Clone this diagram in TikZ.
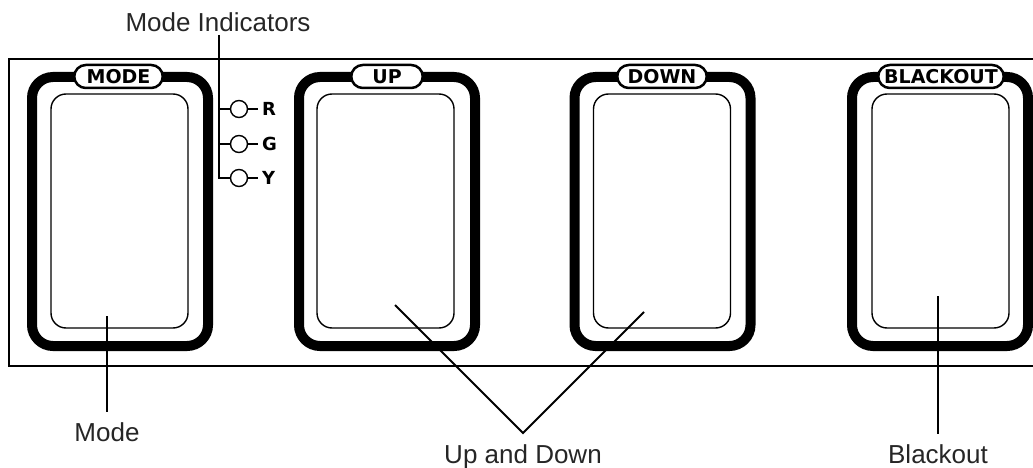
\documentclass[tikz,border=0pt]{standalone}
\usepackage{fontspec}
\setmainfont{Liberation Sans}
\newfontfamily\heavyfont{DejaVu Sans}
\usetikzlibrary{shapes.misc}
\begin{document}
\begin{tikzpicture}[x=1pt,y=-1pt,
  panelbox/.style={draw, line width=1.5pt, minimum width=1041pt, minimum height=307pt, inner sep=0pt},
  outerbtn/.style={draw, line width=10pt, rounded corners=21pt, minimum width=176pt, minimum height=269pt, inner sep=0pt},
  innerbtn/.style={draw, line width=1.4pt, rounded corners=15pt, minimum width=137pt, minimum height=234pt, inner sep=0pt},
  pill/.style={rounded rectangle, draw, fill=white, line width=2.5pt, minimum height=23pt, inner sep=0pt,
    font=\heavyfont\bfseries\fontsize{19}{19}\selectfont},
  led/.style={circle, draw, line width=1.4pt, minimum size=17pt, inner sep=0pt},
  ledtxt/.style={inner xsep=4pt, inner ysep=0pt, anchor=west, font=\heavyfont\bfseries\fontsize{18}{18}\selectfont},
  lbl/.style={anchor=base, inner sep=0pt, text=black!85, font=\fontsize{26}{26}\selectfont},
  callout/.style={line width=2pt}
]
\clip (0,0) rectangle (1033,468);
\fill[white] (0,0) rectangle (1033,468);

% panel
\node[panelbox] (panel) at (529.5,212.5) {};

% buttons
\node[outerbtn] (modeO) at (120,211.5) {};
\node[outerbtn] (upO) at (387,211.5) {};
\node[outerbtn] (downO) at (662.5,211.5) {};
\node[outerbtn] (boO) at (940,211.5) {};

\node[innerbtn] (modeI) at (119.5,211) {};
\node[innerbtn] (upI) at (385.5,211) {};
\node[innerbtn] (downI) at (662,211) {};
\node[innerbtn] (boI) at (940.5,211) {};

\node[pill, minimum width=88.5pt] (modeP) at (118.5,76.5) {MODE};
\node[pill, minimum width=71.5pt] (upP) at (387,76.5) {UP};
\node[pill, minimum width=89.5pt] (downP) at (662,76.5) {DOWN};
\node[pill, minimum width=125.5pt] (boP) at (941,76.5) {BLACKOUT};

% mode indicators
\node[led] (ledR) at (239,109) {};
\node[led] (ledG) at (239,144) {};
\node[led] (ledY) at (239,178) {};
\node[ledtxt] (txtR) at (258,109) {R};
\node[ledtxt] (txtG) at (258,144) {G};
\node[ledtxt] (txtY) at (258,178) {Y};
\draw[line width=1.4pt] (ledR.east) -- (txtR.west);
\draw[line width=1.4pt] (ledG.east) -- (txtG.west);
\draw[line width=1.4pt] (ledY.east) -- (txtY.west);

\node[lbl] (miLbl) at (218,32) {Mode Indicators};
\coordinate (miTop) at (219,35);
\coordinate (miBot) at (219,178);
\draw[callout] (miTop) -- (miBot) -- (ledY.west);
\draw[callout] (ledR.west) -- (ledR.west -| miTop);
\draw[callout] (ledG.west) -- (ledG.west -| miTop);

% callouts
\coordinate (modeTip) at (107,316);
\coordinate (modeEnd) at (107,412);
\node[lbl] (modeLbl) at (107,441) {Mode};
\draw[callout] (modeTip) -- (modeEnd);

\coordinate (upTip) at (395,305);
\coordinate (downTip) at (644,312);
\coordinate (udJoin) at (523,433);
\node[lbl] (udLbl) at (523,463) {Up and Down};
\draw[callout] (upTip) -- (udJoin) -- (downTip);

\coordinate (boTip) at (938,296);
\coordinate (boEnd) at (938,434);
\node[lbl] (boLbl) at (938,463) {Blackout};
\draw[callout] (boTip) -- (boEnd);
\end{tikzpicture}
\end{document}
